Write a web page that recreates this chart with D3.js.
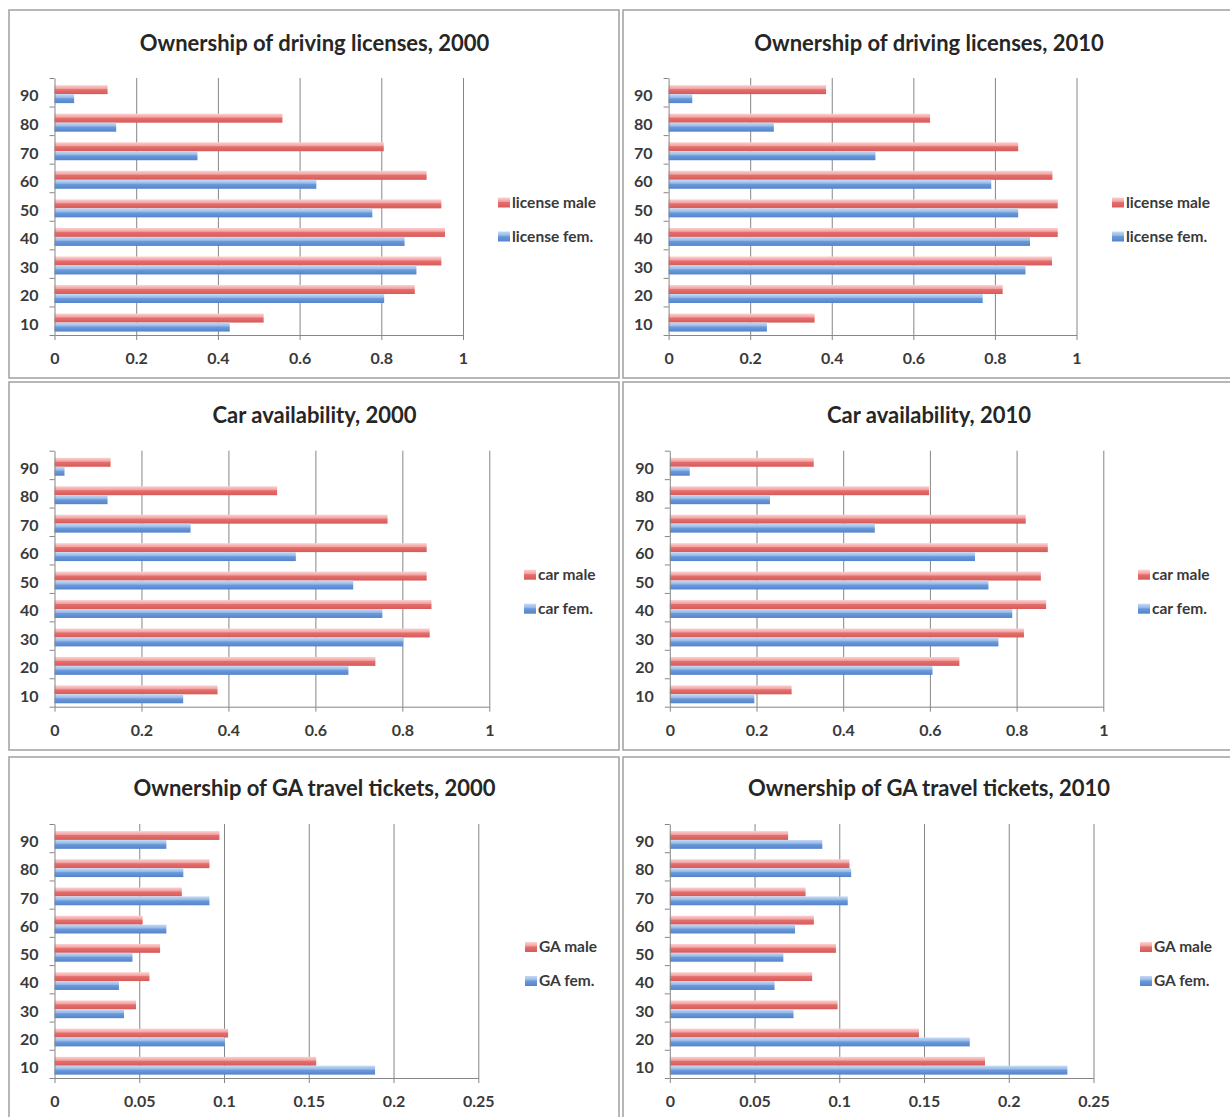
<!DOCTYPE html>
<html><head><meta charset="utf-8">
<script src="https://cdn.jsdelivr.net/npm/d3@7"></script>
<style>
body{margin:0;background:#fff;}
text{font-family:Lato,'Open Sans',sans-serif;}
</style>
</head><body><svg id="c" width="1230" height="1117"></svg>
<script>
// ---------- DATA ----------
const ageGroups = ["10","20","30","40","50","60","70","80","90"];

const licenseMale2000 = [0.512,0.882,0.947,0.956,0.947,0.911,0.806,0.558,0.130];
const licenseFem2000  = [0.429,0.807,0.886,0.857,0.778,0.641,0.350,0.151,0.048];
const licenseMale2010 = [0.358,0.819,0.940,0.954,0.954,0.941,0.857,0.641,0.386];
const licenseFem2010  = [0.241,0.770,0.875,0.886,0.857,0.791,0.507,0.258,0.058];

const carMale2000 = [0.375,0.738,0.863,0.867,0.856,0.856,0.766,0.512,0.129];
const carFem2000  = [0.296,0.676,0.802,0.754,0.687,0.555,0.313,0.122,0.023];
const carMale2010 = [0.281,0.668,0.817,0.868,0.856,0.872,0.821,0.598,0.332];
const carFem2010  = [0.195,0.606,0.758,0.790,0.735,0.704,0.473,0.231,0.046];

const gaMale2000 = [0.1544,0.1024,0.0481,0.0560,0.0623,0.0520,0.0751,0.0914,0.0973];
const gaFem2000  = [0.1891,0.1005,0.0410,0.0380,0.0460,0.0660,0.0914,0.0760,0.0660];
const gaMale2010 = [0.1860,0.1470,0.0990,0.0840,0.0980,0.0850,0.0801,0.1060,0.0698];
const gaFem2010  = [0.2346,0.1770,0.0730,0.0618,0.0670,0.0739,0.1050,0.1070,0.0900];

const shareTicks = [0,0.2,0.4,0.6,0.8,1];
const shareTickLabels = ["0","0.2","0.4","0.6","0.8","1"];
const gaTicks = [0,0.05,0.1,0.15,0.2,0.25];
const gaTickLabels = ["0","0.05","0.1","0.15","0.2","0.25"];

const panelTitles = [
  "Ownership of driving licenses, 2000","Ownership of driving licenses, 2010",
  "Car availability, 2000","Car availability, 2010",
  "Ownership of GA travel tickets, 2000","Ownership of GA travel tickets, 2010"
];
const licenseLegend = ["license male","license fem."];
const carLegend = ["car male","car fem."];
const gaLegend = ["GA male","GA fem."];

// ---------- LAYOUT ----------
const svg = d3.select("#c");
const defs = svg.append("defs");
function grad(id, stops){
  const lg = defs.append("linearGradient").attr("id",id).attr("x1",0).attr("y1",0).attr("x2",0).attr("y2",1);
  stops.forEach(s=>lg.append("stop").attr("offset",s[0]).attr("stop-color",s[1]));
}
grad("gRed",[[0,"#fbd2d1"],[0.38,"#f2a3a2"],[0.5,"#e56e6c"],[1,"#d65b59"]]);
grad("gBlue",[[0,"#c6dbf4"],[0.38,"#97b9e8"],[0.5,"#6b9adb"],[1,"#5383ca"]]);

const panels = [
  {title:panelTitles[0], male:licenseMale2000, fem:licenseFem2000, ticks:shareTicks, labels:shareTickLabels, legend:licenseLegend,
   bx:9, by:10, bw:610, bh:368, left:54.5, right:463, top:78, bottom:335, tx:314.5, ty:43, lx:498},
  {title:panelTitles[1], male:licenseMale2010, fem:licenseFem2010, ticks:shareTicks, labels:shareTickLabels, legend:licenseLegend,
   bx:623, by:10, bw:620, bh:368, left:668.6, right:1076.5, top:78, bottom:335, tx:929, ty:43, lx:1112},
  {title:panelTitles[2], male:carMale2000, fem:carFem2000, ticks:shareTicks, labels:shareTickLabels, legend:carLegend,
   bx:9, by:382, bw:610, bh:368, left:54.5, right:489.3, top:450.7, bottom:706.7, tx:314.5, ty:415, lx:524},
  {title:panelTitles[3], male:carMale2010, fem:carFem2010, ticks:shareTicks, labels:shareTickLabels, legend:carLegend,
   bx:623, by:382, bw:620, bh:368, left:669.8, right:1103.3, top:450.7, bottom:706.7, tx:929, ty:415, lx:1138},
  {title:panelTitles[4], male:gaMale2000, fem:gaFem2000, ticks:gaTicks, labels:gaTickLabels, legend:gaLegend,
   bx:9, by:757, bw:610, bh:400, left:54.5, right:478.3, top:824, bottom:1078, tx:314.5, ty:788, lx:525},
  {title:panelTitles[5], male:gaMale2010, fem:gaFem2010, ticks:gaTicks, labels:gaTickLabels, legend:gaLegend,
   bx:623, by:757, bw:620, bh:400, left:669.8, right:1093.5, top:824, bottom:1078, tx:929, ty:788, lx:1140}
];

const axisColor = "#868686";
const textColor = "#3a3a3a";
const fontFam = "Lato,'Open Sans',sans-serif";

panels.forEach(p=>{
  const g = svg.append("g");
  g.append("rect").attr("x",p.bx).attr("y",p.by).attr("width",p.bw).attr("height",p.bh)
    .attr("fill","#fff").attr("stroke","#a6a6a6").attr("stroke-width",1.6);

  g.append("text").attr("x",p.tx).attr("y",p.ty).attr("dy","0.35em").attr("text-anchor","middle")
    .attr("font-size",22).attr("font-weight","bold").attr("fill","#262626").text(p.title);

  const maxV = p.ticks[p.ticks.length-1];
  const x = d3.scaleLinear().domain([0,maxV]).range([p.left,p.right]);
  const y = d3.scaleBand().domain(ageGroups.slice().reverse()).range([p.top,p.bottom]);
  const bw = y.bandwidth();
  const sub = d3.scaleBand().domain(["male","fem"]).range([bw*0.25,bw*0.88]);

  // gridlines
  const grid = g.append("g").attr("transform",`translate(0,${p.top})`)
    .call(d3.axisBottom(x).tickValues(p.ticks.slice(1)).tickSize(p.bottom-p.top).tickFormat(""));
  grid.select(".domain").remove();
  grid.selectAll("line").attr("stroke",axisColor).attr("stroke-width",1);

  // bars
  const rows = ageGroups.map((a,i)=>({age:a, male:p.male[i], fem:p.fem[i]}));
  ["male","fem"].forEach(s=>{
    g.append("g").selectAll("rect").data(rows).join("rect")
      .attr("x",x(0))
      .attr("y",d=>y(d.age)+sub(s))
      .attr("width",d=>x(d[s])-x(0))
      .attr("height",sub.bandwidth())
      .attr("fill",s==="male"?"url(#gRed)":"url(#gBlue)");
  });

  // left axis with ticks between categories
  const yb = d3.scaleLinear().domain([0,ageGroups.length]).range([p.bottom,p.top]);
  const la = g.append("g").attr("transform",`translate(${p.left},0)`)
    .call(d3.axisLeft(yb).tickValues(d3.range(ageGroups.length+1)).tickSize(5).tickSizeOuter(0).tickFormat(""));
  la.selectAll("line,path").attr("stroke",axisColor);

  const ll = g.append("g").attr("transform",`translate(${p.left-16},4)`)
    .call(d3.axisLeft(y).tickSize(0).tickPadding(0));
  ll.select(".domain").remove();
  ll.selectAll("text").attr("font-family",fontFam).attr("font-size",16)
    .attr("font-weight","bold").attr("fill",textColor);

  // bottom axis
  const ba = g.append("g").attr("transform",`translate(0,${p.bottom})`)
    .call(d3.axisBottom(x).tickValues(p.ticks).tickSize(5).tickSizeOuter(0).tickPadding(13)
      .tickFormat((d,i)=>p.labels[i]));
  ba.selectAll("line,path").attr("stroke",axisColor);
  ba.selectAll("text").attr("font-family",fontFam).attr("font-size",16)
    .attr("font-weight","bold").attr("fill",textColor);

  // legend
  const mid = (p.top+p.bottom)/2;
  const lg = g.append("g");
  const items = [{label:p.legend[0], fill:"url(#gRed)", cy:mid-4},{label:p.legend[1], fill:"url(#gBlue)", cy:mid+30}];
  lg.selectAll("rect").data(items).join("rect")
    .attr("x",p.lx).attr("y",d=>d.cy-5).attr("width",12).attr("height",10).attr("fill",d=>d.fill);
  lg.selectAll("text").data(items).join("text")
    .attr("x",p.lx+14).attr("y",d=>d.cy).attr("dy","0.35em")
    .attr("font-size",15.5).attr("font-weight","bold").attr("fill",textColor).text(d=>d.label);
});
</script>
</body></html>
